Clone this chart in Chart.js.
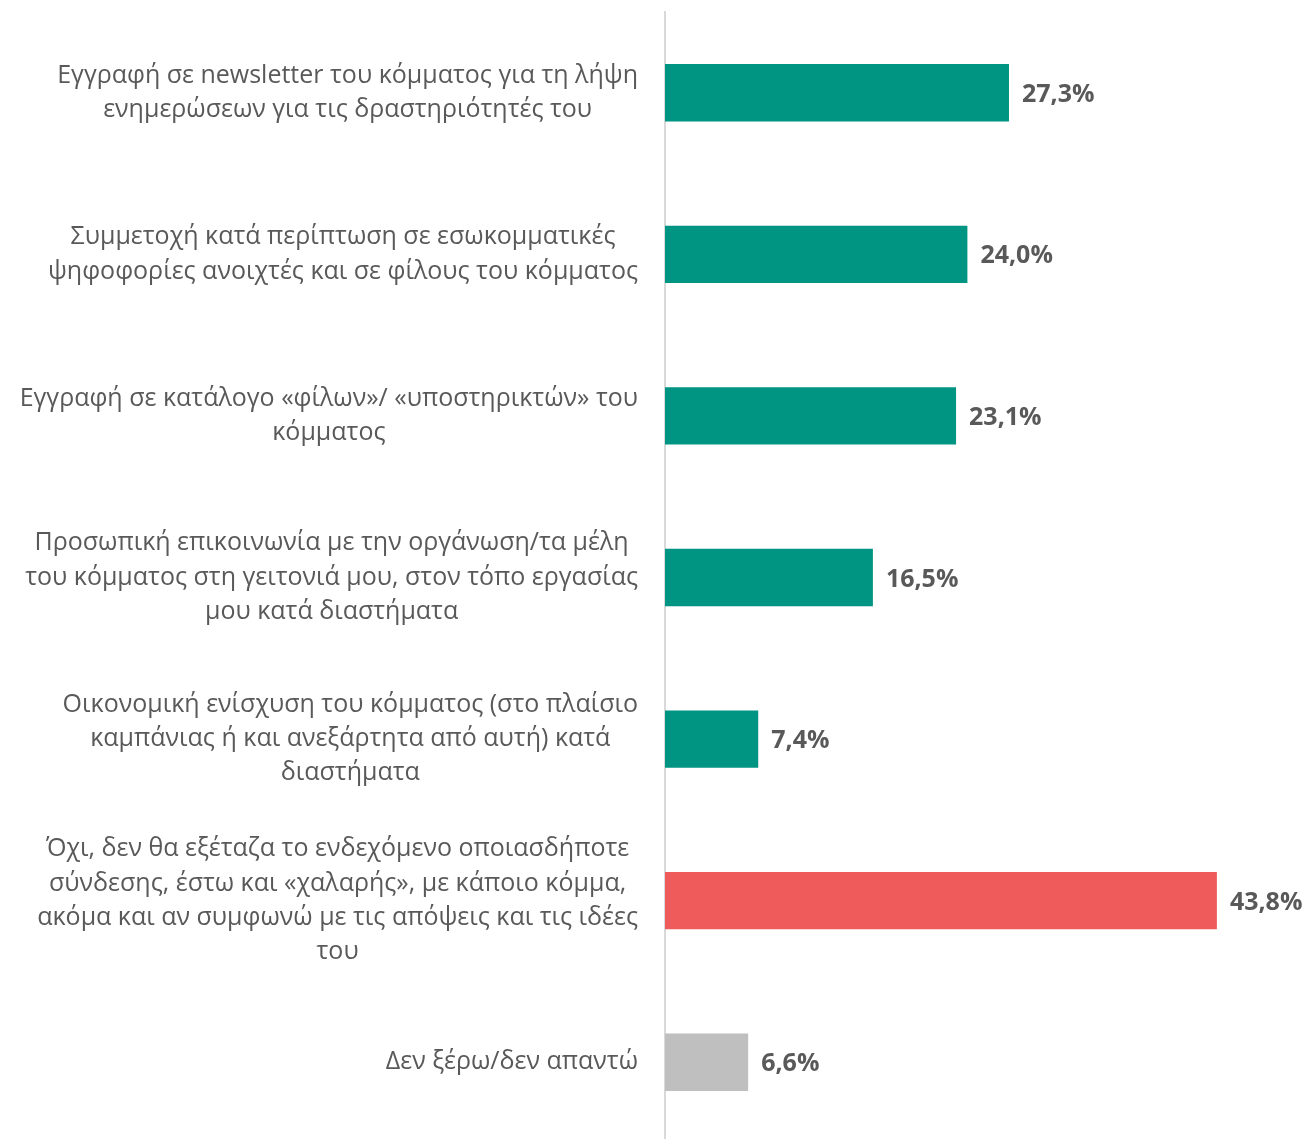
<!DOCTYPE html>
<html lang="el">
  <head>
    <meta charset="UTF-8" />
    <title>Σύνδεση με κόμμα</title>
    <script src="https://cdn.jsdelivr.net/npm/chart.js"></script>
    <style>
      html,
      body {
        margin: 0;
        padding: 0;
        background: #ffffff;
        overflow: hidden;
      }
      .chart-wrap {
        position: relative;
        width: 1309px;
        height: 1143px;
      }
    </style>
  </head>
  <body>
    <div class="chart-wrap">
      <canvas id="partyChart"></canvas>
    </div>

    <script>
      // categories (one entry per bar, split into lines as in the original)
      const categories = [
        ["Εγγραφή σε newsletter του κόμματος για τη λήψη", "ενημερώσεων για τις δραστηριότητές του"],
        ["Συμμετοχή κατά περίπτωση σε εσωκομματικές", "ψηφοφορίες ανοιχτές και σε φίλους του κόμματος"],
        ["Εγγραφή σε κατάλογο «φίλων»/ «υποστηρικτών» του", "κόμματος"],
        ["Προσωπική επικοινωνία με την οργάνωση/τα μέλη", "του κόμματος στη γειτονιά μου, στον τόπο εργασίας", "μου κατά διαστήματα"],
        ["Οικονομική ενίσχυση του κόμματος (στο πλαίσιο", "καμπάνιας ή και ανεξάρτητα από αυτή) κατά", "διαστήματα"],
        ["Όχι, δεν θα εξέταζα το ενδεχόμενο οποιασδήποτε", "σύνδεσης, έστω και «χαλαρής», με κάποιο κόμμα,", "ακόμα και αν συμφωνώ με τις απόψεις και τις ιδέες", "του"],
        ["Δεν ξέρω/δεν απαντώ"],
      ];
      const values = [27.3, 24.0, 23.1, 16.5, 7.4, 43.8, 6.6];

      const barColors = ["#009482", "#009482", "#009482", "#009482", "#009482", "#ef5b5b", "#bfbfbf"];
      const textColor = "#595959";
      const labelFont = '25px "Open Sans", sans-serif';
      const valueFont = 'bold 25px "Open Sans", sans-serif';
      const lineHeight = 34.3;

      const fmt = (v) => v.toFixed(1).replace(".", ",") + "%";

      // category labels: block right-aligned to the axis, lines centred inside the block
      const categoryLabels = {
        id: "categoryLabels",
        afterDraw(chart) {
          const ctx = chart.ctx;
          const y = chart.scales.y;
          const right = y.right - 27;
          ctx.save();
          ctx.font = labelFont;
          ctx.fillStyle = textColor;
          ctx.textAlign = "center";
          ctx.textBaseline = "middle";
          categories.forEach((lines, i) => {
            const widest = Math.max(...lines.map((l) => ctx.measureText(l).width));
            const cx = right - widest / 2;
            const cy = y.getPixelForValue(i);
            const top = cy - ((lines.length - 1) * lineHeight) / 2;
            lines.forEach((l, j) => ctx.fillText(l, cx, top + j * lineHeight));
          });
          ctx.restore();
        },
      };

      // value labels at the end of each bar
      const valueLabels = {
        id: "valueLabels",
        afterDatasetsDraw(chart) {
          const ctx = chart.ctx;
          const meta = chart.getDatasetMeta(0);
          ctx.save();
          ctx.font = valueFont;
          ctx.fillStyle = textColor;
          ctx.textAlign = "left";
          ctx.textBaseline = "middle";
          meta.data.forEach((bar, i) => {
            ctx.fillText(fmt(values[i]), bar.x + 13, bar.y + 2);
          });
          ctx.restore();
        },
      };

      new Chart(document.getElementById("partyChart"), {
        type: "bar",
        data: {
          labels: categories,
          datasets: [
            {
              data: values,
              backgroundColor: barColors,
              borderWidth: 0,
              categoryPercentage: 1,
              barPercentage: 0.355,
            },
          ],
        },
        options: {
          indexAxis: "y",
          responsive: true,
          maintainAspectRatio: false,
          animation: false,
          layout: { padding: { top: 12, right: 14, bottom: 0, left: 0 } },
          plugins: {
            legend: { display: false },
            tooltip: { enabled: false },
          },
          scales: {
            x: {
              display: false,
              min: 0,
              max: 50,
            },
            y: {
              grid: { display: false, drawTicks: false },
              border: { display: true, color: "#d9d9d9", width: 2 },
              ticks: { display: false },
              afterFit(scale) {
                scale.width = 665;
              },
            },
          },
        },
        plugins: [categoryLabels, valueLabels],
      });
    </script>
  </body>
</html>
